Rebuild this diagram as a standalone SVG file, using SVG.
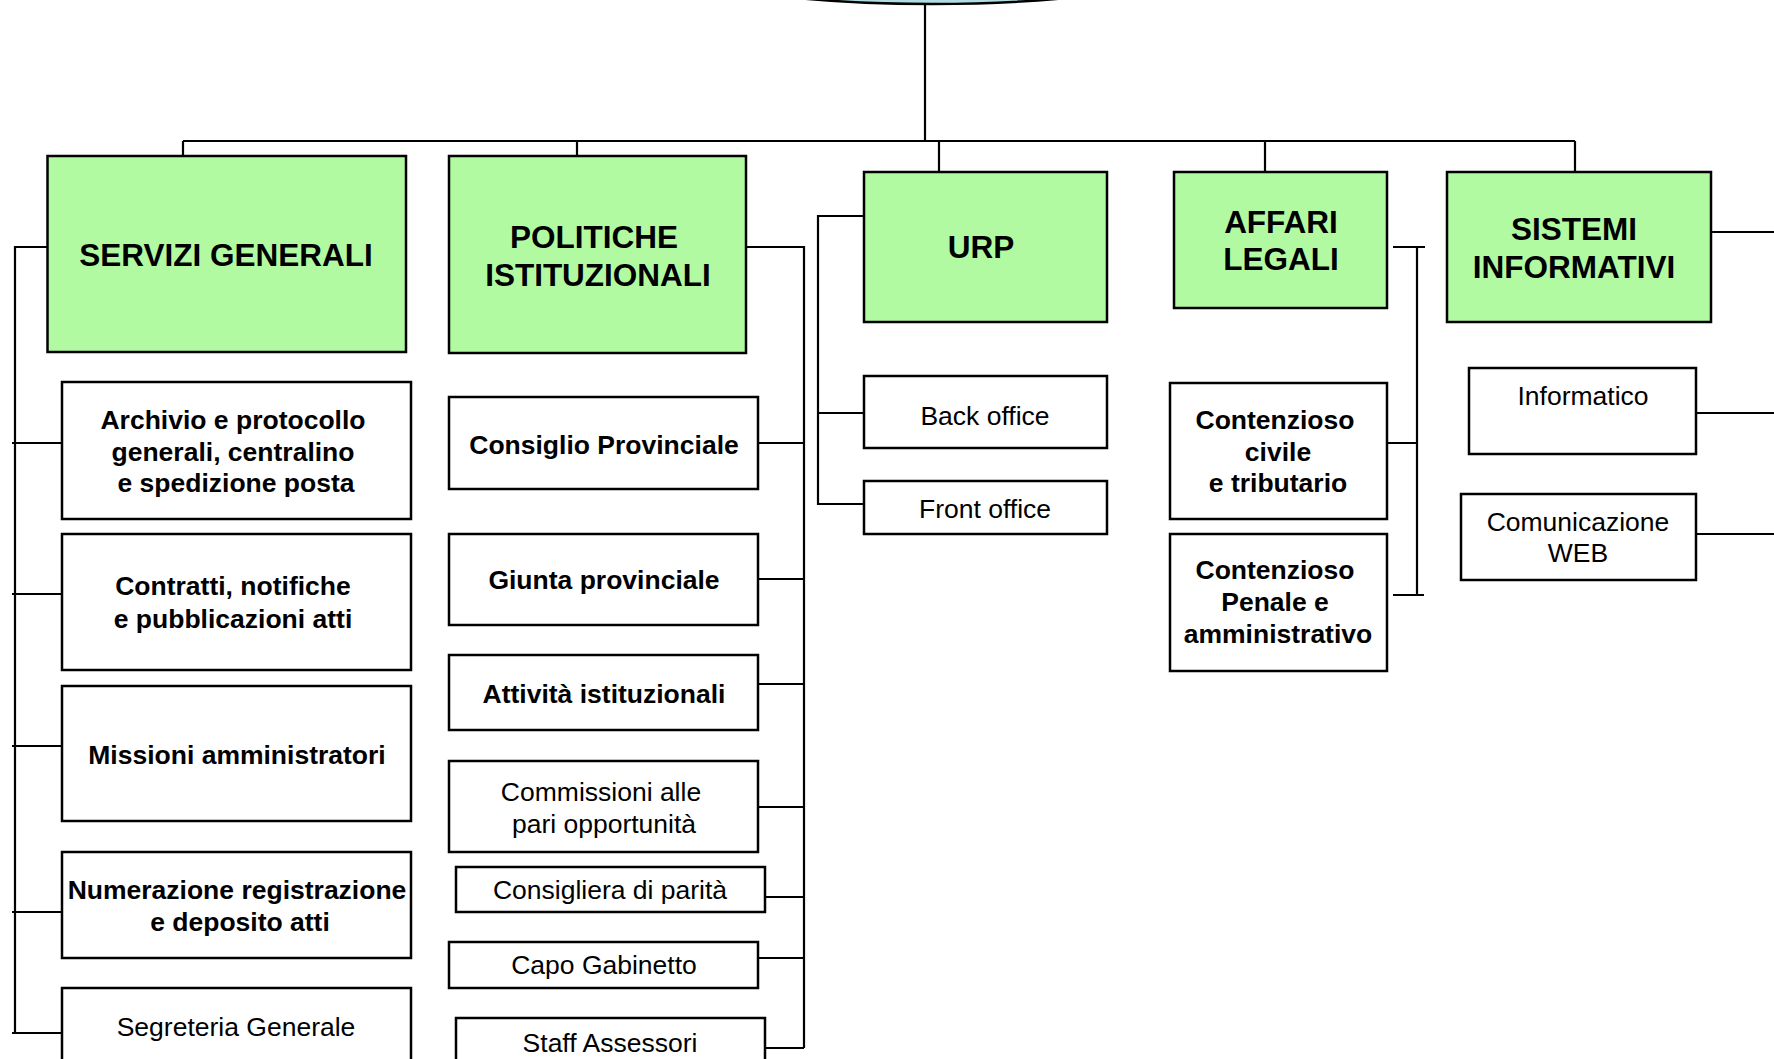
<svg xmlns="http://www.w3.org/2000/svg" width="1774" height="1059" viewBox="0 0 1774 1059">
<style>
.bg{fill:#ffffff}
.main{fill:#b2faa2;stroke:#000;stroke-width:2.5}
.sub{fill:#ffffff;stroke:#000;stroke-width:2.5}
.root{fill:#b0dde2;stroke:#000;stroke-width:2.5}
.ln{fill:none;stroke:#000;stroke-width:2.2}
text{font-family:"Liberation Sans",Arial,sans-serif;fill:#000;text-anchor:middle}
.t1{font-size:31.5px;font-weight:bold}
.tb{font-size:26.5px;font-weight:bold}
.tr{font-size:26.5px}
</style>
<rect class="bg" x="0" y="0" width="1774" height="1059"/>
<g id="root"><ellipse class="root" cx="932" cy="-46" rx="280" ry="50"/></g>
<g id="connectors">
<path class="ln" d="M925 4V141M183 141H1575M183 141V156M577 141V156M939 141V172M1265 141V172M1575 141V172"/>
<path class="ln" d="M53 247H15V1033M12 443H62M12 594H62M12 746H62M12 912H62M12 1033H62"/>
<path class="ln" d="M743 247H804V1048M758 443H804M758 579H804M758 684H804M758 807H804M765 897H804M758 958H804M765 1048H804"/>
<path class="ln" d="M864 216H818V504H864M818 413H864"/>
<path class="ln" d="M1393 247H1425M1417 247V595M1387 443H1417M1393 595H1424"/>
<path class="ln" d="M1711 232H1774M1696 413H1774M1696 534H1774"/>
</g>
<g id="servizi-generali"><rect class="main" x="47.5" y="156" width="358.5" height="196"/><text class="t1" x="226" y="266">SERVIZI GENERALI</text></g>
<g id="politiche-istituzionali"><rect class="main" x="449" y="156" width="297" height="197"/><text class="t1" x="594" y="248">POLITICHE</text><text class="t1" x="598" y="286">ISTITUZIONALI</text></g>
<g id="urp"><rect class="main" x="864" y="172" width="243" height="150"/><text class="t1" x="981" y="258">URP</text></g>
<g id="affari-legali"><rect class="main" x="1174" y="172" width="213" height="136"/><text class="t1" x="1281" y="233">AFFARI</text><text class="t1" x="1281" y="270">LEGALI</text></g>
<g id="sistemi-informativi"><rect class="main" x="1447" y="172" width="264" height="150"/><text class="t1" x="1574" y="240">SISTEMI</text><text class="t1" x="1574" y="278">INFORMATIVI</text></g>
<g id="archivio"><rect class="sub" x="62" y="382" width="349" height="137"/><text class="tb" x="233" y="429">Archivio e protocollo</text><text class="tb" x="233" y="461">generali, centralino</text><text class="tb" x="236" y="492">e spedizione posta</text></g>
<g id="contratti"><rect class="sub" x="62" y="534" width="349" height="136"/><text class="tb" x="233" y="595">Contratti, notifiche</text><text class="tb" x="233" y="628">e pubblicazioni atti</text></g>
<g id="missioni"><rect class="sub" x="62" y="686" width="349" height="135"/><text class="tb" x="237" y="764">Missioni amministratori</text></g>
<g id="numerazione"><rect class="sub" x="62" y="852" width="349" height="106"/><text class="tb" x="237" y="899">Numerazione registrazione</text><text class="tb" x="240" y="931">e deposito atti</text></g>
<g id="segreteria"><rect class="sub" x="62" y="988" width="349" height="90"/><text class="tr" x="236" y="1036">Segreteria Generale</text></g>
<g id="consiglio"><rect class="sub" x="449" y="397" width="309" height="92"/><text class="tb" x="604" y="454">Consiglio Provinciale</text></g>
<g id="giunta"><rect class="sub" x="449" y="534" width="309" height="91"/><text class="tb" x="604" y="589">Giunta provinciale</text></g>
<g id="attivita"><rect class="sub" x="449" y="655" width="309" height="75"/><text class="tb" x="604" y="703">Attività istituzionali</text></g>
<g id="commissioni"><rect class="sub" x="449" y="761" width="309" height="91"/><text class="tr" x="601" y="801">Commissioni alle</text><text class="tr" x="604" y="833">pari opportunità</text></g>
<g id="consigliera"><rect class="sub" x="456" y="867" width="309" height="45"/><text class="tr" x="610" y="899">Consigliera di parità</text></g>
<g id="capo-gabinetto"><rect class="sub" x="449" y="942" width="309" height="46"/><text class="tr" x="604" y="974">Capo Gabinetto</text></g>
<g id="staff-assessori"><rect class="sub" x="456" y="1018" width="309" height="60"/><text class="tr" x="610" y="1052">Staff Assessori</text></g>
<g id="back-office"><rect class="sub" x="864" y="376" width="243" height="72"/><text class="tr" x="985" y="425">Back office</text></g>
<g id="front-office"><rect class="sub" x="864" y="481" width="243" height="53"/><text class="tr" x="985" y="518">Front office</text></g>
<g id="contenzioso-civile"><rect class="sub" x="1170" y="383" width="217" height="136"/><text class="tb" x="1275" y="429">Contenzioso</text><text class="tb" x="1278" y="461">civile</text><text class="tb" x="1278" y="492">e tributario</text></g>
<g id="contenzioso-penale"><rect class="sub" x="1170" y="534" width="217" height="137"/><text class="tb" x="1275" y="579">Contenzioso</text><text class="tb" x="1275" y="611">Penale e</text><text class="tb" x="1278" y="643">amministrativo</text></g>
<g id="informatico"><rect class="sub" x="1469" y="368" width="227" height="86"/><text class="tr" x="1583" y="405">Informatico</text></g>
<g id="comunicazione-web"><rect class="sub" x="1461" y="494" width="235" height="86"/><text class="tr" x="1578" y="531">Comunicazione</text><text class="tr" x="1578" y="562">WEB</text></g>
</svg>
